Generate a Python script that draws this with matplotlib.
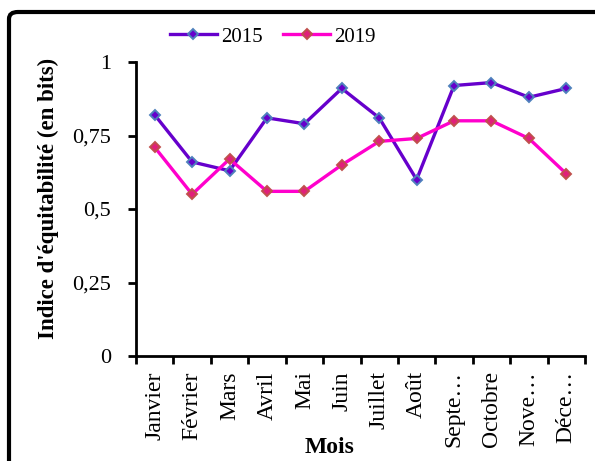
import numpy as np
import matplotlib
matplotlib.use('Agg')
import matplotlib.pyplot as plt
from matplotlib.patches import FancyBboxPatch

plt.rcParams['font.family'] = ['Liberation Serif', 'DejaVu Serif']

mois = ['Janvier', 'Février', 'Mars', 'Avril', 'Mai', 'Juin', 'Juillet',
        'Août', 'Septe…', 'Octobre', 'Nove…', 'Déce…']
v2015 = [0.82, 0.66, 0.63, 0.81, 0.79, 0.91, 0.81, 0.60, 0.92, 0.93, 0.88, 0.91]
v2019 = [0.71, 0.55, 0.67, 0.56, 0.56, 0.65, 0.73, 0.74, 0.80, 0.80, 0.74, 0.62]
yticks = [0, 0.25, 0.5, 0.75, 1]
ylabels = ['0', '0,25', '0,5', '0,75', '1']

fig = plt.figure(figsize=(5.95, 4.61), dpi=100)
ax = fig.add_axes([136/595, 1-356/461, (585-136)/595, (356-62)/461])

x = np.arange(len(mois))
ax.plot(x, v2015, color='#6600CC', lw=2.4, marker='D', ms=5.5,
        mfc='#6600CC', mec='#4F81BD', mew=1.4, label='2015')
ax.plot(x, v2019, color='#FF00CC', lw=2.4, marker='D', ms=5.5,
        mfc='#E0207A', mec='#C0504D', mew=1.4, label='2019')

ax.set_xlim(-0.5, len(mois) - 0.5)
ax.set_ylim(0, 1)
ax.set_yticks(yticks)
ax.set_yticklabels(ylabels, fontsize=16)
ax.set_xticks(x)
ax.set_xticklabels(mois, rotation=90, fontsize=17)
ax.set_xticks(np.arange(-0.5, len(mois)), minor=True)
ax.tick_params(axis='x', which='major', length=0, pad=11)
ax.tick_params(axis='x', which='minor', length=6, width=2, direction='out')
ax.tick_params(axis='y', length=6, width=2, direction='out', pad=12)
for s in ['top', 'right']:
    ax.spines[s].set_visible(False)
for s in ['left', 'bottom']:
    ax.spines[s].set_linewidth(2)

fig.text(48/595, 1-198/461, "Indice d'équitabilité (en bits)", fontsize=16.5, fontweight='bold',
         rotation=90, ha='center', va='center')
fig.text(330/595, 1-447/461, 'Mois', fontsize=17, fontweight='bold', ha='center', va='center')

fig.legend(loc='center', bbox_to_anchor=(273/595, 1-37/461), ncol=2, frameon=False,
           fontsize=15, handlelength=2.25, columnspacing=1.0, handletextpad=0.2)

frame = FancyBboxPatch((9/595, -0.05), 1.1, 1-12/461+0.05, boxstyle='round,pad=0,rounding_size=0.015',
                       transform=fig.transFigure, fill=False, ec='black', lw=3, clip_on=False)
fig.patches.append(frame)

fig.savefig('out.png', dpi=100)
